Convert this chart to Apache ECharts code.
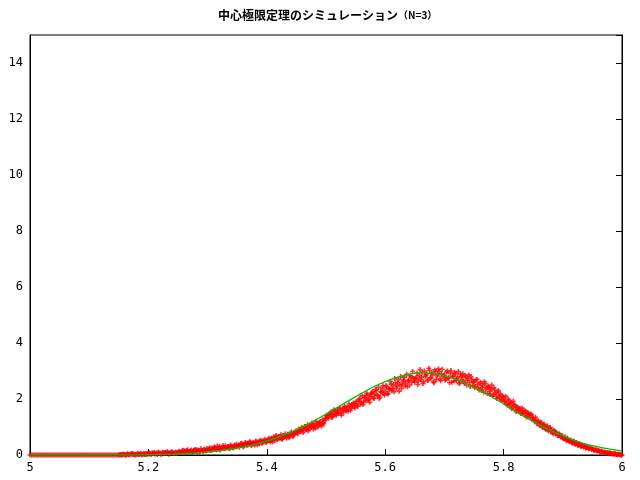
<!DOCTYPE html>
<html><head><meta charset="utf-8">
<script src="https://cdn.jsdelivr.net/npm/echarts@6/dist/echarts.min.js"></script>
<style>html,body{margin:0;padding:0;background:#fff}#c{width:640px;height:480px}</style>
</head><body><div id="c"></div>
<script>
// Tick settings
const xTicks = [5, 5.2, 5.4, 5.6, 5.8, 6];
const yTicks = [0, 2, 4, 6, 8, 10, 12, 14];

// Simulated histogram (red points), first set: x starts at 5.0, step 0.0025
const redStartX = 5.0;
const redStepX = 0.0025;
const redY = [
0,0,0,0,0,0,0,0,0,0,0,0,0,0,0,0,0,0,0,0,
0,0,0,0,0,0,0,0,0,0,0,0,0,0,0,0,0,0,0,0,
0,0,0,0,0,0,0,0,0,0,0,0,0,0,0,0,0,0,0,0,
0,0.02,0,0.03,0.01,0,0.04,0.02,0.01,0.05,0.02,0,0.03,0.06,0.02,0.04,0.01,0.05,0.03,0.02,
0.04,0.07,0.03,0.06,0.09,0.05,0.02,0.08,0.06,0.04,0.1,0.07,0.05,0.09,0.03,0.08,0.11,0.06,0.07,0.05,
0.08,0.12,0.1,0.15,0.07,0.13,0.16,0.09,0.12,0.18,0.11,0.14,0.2,0.1,0.15,0.13,0.17,0.12,0.21,0.16,
0.18,0.22,0.16,0.25,0.2,0.27,0.19,0.24,0.3,0.21,0.26,0.23,0.33,0.25,0.28,0.22,0.31,0.27,0.35,0.29,
0.3,0.36,0.33,0.4,0.29,0.37,0.42,0.35,0.39,0.45,0.38,0.41,0.36,0.47,0.43,0.4,0.5,0.44,0.46,0.52,
0.48,0.55,0.51,0.6,0.47,0.58,0.63,0.55,0.66,0.6,0.57,0.7,0.64,0.68,0.74,0.62,0.72,0.78,0.7,0.8,
0.82,0.76,0.9,0.85,0.95,0.88,1.0,0.93,0.86,1.05,0.98,1.1,1.02,0.96,1.12,1.08,1.18,1.04,1.15,1.22,
1.32,1.42,1.38,1.5,1.34,1.46,1.57,1.42,1.52,1.64,1.48,1.6,1.54,1.7,1.62,1.56,1.74,1.67,1.8,1.72,
1.84,1.77,1.92,2.02,1.87,1.8,2.07,1.94,2.14,2.0,2.1,2.22,2.04,2.18,2.3,2.12,2.02,2.26,2.37,2.2,
2.28,2.43,2.18,2.36,2.53,2.38,2.26,2.58,2.46,2.7,2.5,2.38,2.63,2.78,2.56,2.44,2.68,2.83,2.6,2.74,
2.6,2.78,2.52,2.85,2.7,2.95,2.62,2.8,2.9,2.68,3.02,2.75,2.86,2.58,2.98,2.82,3.08,2.72,2.9,2.8,
2.85,2.7,3.0,2.76,2.92,2.6,2.82,2.95,2.66,2.78,2.55,2.88,2.7,2.62,2.84,2.5,2.74,2.58,2.8,2.48,
2.6,2.45,2.7,2.38,2.55,2.3,2.48,2.62,2.35,2.2,2.42,2.28,2.5,2.15,2.32,2.1,2.25,2.05,2.18,1.98,
2.05,1.9,1.82,2.0,1.75,1.88,1.7,1.8,1.62,1.72,1.58,1.66,1.5,1.6,1.45,1.55,1.4,1.48,1.35,1.42,
1.32,1.2,1.26,1.15,1.1,1.18,1.02,1.08,0.95,1.0,0.9,0.96,0.85,0.8,0.88,0.75,0.78,0.7,0.72,0.65,
0.62,0.58,0.55,0.6,0.5,0.52,0.45,0.48,0.4,0.43,0.36,0.38,0.32,0.35,0.28,0.3,0.26,0.27,0.22,0.24,
0.22,0.18,0.2,0.15,0.17,0.12,0.14,0.1,0.11,0.08,0.09,0.06,0.07,0.05,0.04,0.06,0.03,0.02,0.03,0.01,
0
];

// Second set of red points, interleaved: x starts at 5.15125, step 0.0025
const red2StartX = 5.15125;
const red2Y = [
0.01,0,0.03,0.02,0,0.04,0.01,0.03,0.05,0.02,0.04,0.01,0.03,0.02,0.06,0.03,0.04,0.02,0.05,0.07,
0.06,0.03,0.08,0.05,0.04,0.07,0.1,0.06,0.03,0.08,0.05,0.09,0.12,0.07,0.06,0.1,0.08,0.05,0.11,0.09,
0.13,0.09,0.11,0.17,0.14,0.1,0.19,0.12,0.15,0.09,0.16,0.2,0.13,0.18,0.11,0.22,0.15,0.19,0.14,0.23,
0.2,0.26,0.17,0.23,0.29,0.21,0.32,0.24,0.18,0.28,0.34,0.22,0.27,0.3,0.24,0.36,0.29,0.25,0.33,0.38,
0.34,0.28,0.41,0.38,0.32,0.45,0.36,0.43,0.48,0.33,0.44,0.4,0.5,0.37,0.46,0.53,0.42,0.49,0.56,0.45,
0.52,0.6,0.46,0.57,0.64,0.53,0.7,0.58,0.62,0.72,0.56,0.66,0.76,0.61,0.73,0.68,0.82,0.66,0.76,0.86,
0.78,0.92,0.84,0.98,0.8,1.02,0.9,1.08,0.94,1.0,1.14,0.92,1.06,1.2,1.0,1.16,1.1,1.26,1.12,1.3,
1.4,1.3,1.47,1.54,1.37,1.62,1.45,1.58,1.5,1.68,1.42,1.66,1.74,1.57,1.7,1.82,1.6,1.78,1.86,1.68,
1.92,1.74,2.0,1.82,2.12,1.9,2.04,2.2,1.97,1.88,2.17,2.27,2.02,2.34,2.14,2.42,2.07,2.24,2.47,2.14,
2.48,2.2,2.36,2.63,2.3,2.5,2.73,2.38,2.58,2.28,2.8,2.53,2.68,2.46,2.88,2.64,2.5,2.78,2.98,2.66,
2.72,2.92,2.64,3.05,2.78,2.55,3.0,2.86,2.66,3.1,2.76,2.94,2.62,3.04,2.7,2.88,2.98,2.65,3.06,2.84,
2.68,2.96,2.75,2.58,3.02,2.8,2.64,2.9,2.72,2.98,2.6,2.8,2.9,2.56,2.78,2.66,2.86,2.45,2.7,2.62,
2.4,2.68,2.52,2.32,2.6,2.42,2.25,2.55,2.4,2.46,2.18,2.36,2.12,2.4,2.22,2.02,2.3,2.12,1.95,2.1,
1.92,2.1,1.78,1.95,1.85,1.65,1.92,1.78,1.55,1.7,1.62,1.48,1.68,1.52,1.58,1.36,1.5,1.42,1.46,1.28,
1.24,1.35,1.12,1.22,1.05,1.14,0.98,1.1,0.92,1.04,0.86,0.98,0.9,0.76,0.84,0.8,0.7,0.76,0.64,0.7,
0.58,0.64,0.52,0.56,0.47,0.54,0.42,0.5,0.38,0.44,0.34,0.4,0.3,0.33,0.3,0.25,0.28,0.23,0.26,0.2,
0.2,0.16,0.18,0.13,0.15,0.1,0.12,0.09,0.1,0.07,0.06,0.08,0.04,0.05,0.03,0.04,0.02,0.03,0.01,0.0
];

// Theoretical density (green line), read at x = 5.00, 5.02, ... 6.00
const greenX = [5.00,5.02,5.04,5.06,5.08,5.10,5.12,5.14,5.16,5.18,5.20,5.22,5.24,5.26,5.28,5.30,5.32,5.34,5.36,5.38,5.40,
5.42,5.44,5.46,5.48,5.50,5.52,5.54,5.56,5.58,5.60,5.62,5.64,5.66,5.68,5.70,5.72,5.74,5.76,5.78,5.80,
5.82,5.84,5.86,5.88,5.90,5.92,5.94,5.96,5.98,6.00];
const greenY = [0,0,0,0,0,0,0,0.002,0.005,0.008,0.013,0.02,0.03,0.047,0.07,0.11,0.15,0.22,0.29,0.38,0.5,
0.64,0.81,1.0,1.22,1.46,1.71,1.96,2.2,2.43,2.62,2.77,2.88,2.93,2.91,2.83,2.7,2.52,2.3,2.07,1.82,
1.56,1.31,1.08,0.87,0.68,0.52,0.39,0.29,0.21,0.15];

const redData = redY.map((v, i) => [+(redStartX + i * redStepX).toFixed(5), v])
  .concat(red2Y.map((v, i) => [+(red2StartX + i * redStepX).toFixed(5), v]));
const greenData = greenX.map((x, i) => [x, greenY[i]]);

const FONT = 'DejaVu Sans Mono';
const chart = echarts.init(document.getElementById('c'), null, {renderer: 'canvas'});
chart.setOption({
  animation: false,
  backgroundColor: '#fff',
  title: {
    text: '{a|中心極限定理のシミュレーション}{b|（N=3）}',
    left: 213, top: 4,
    textStyle: {
      rich: {
        a: {fontFamily: 'Noto Sans CJK JP', fontWeight: 'bold', fontSize: 12, color: '#000'},
        b: {fontFamily: 'Noto Sans CJK JP', fontSize: 10, color: '#000'}
      }
    }
  },
  grid: {left: 30, right: 18, top: 35, bottom: 25, show: true, borderColor: '#000', borderWidth: 1, backgroundColor: 'transparent'},
  xAxis: [{
    type: 'value', min: xTicks[0], max: xTicks[xTicks.length - 1], interval: 0.2,
    axisLine: {show: true, lineStyle: {color: '#000', width: 1}},
    axisTick: {show: true, inside: true, length: 6, lineStyle: {color: '#000'}},
    axisLabel: {color: '#000', fontFamily: FONT, fontSize: 12, margin: 7},
    splitLine: {show: false}
  }],
  yAxis: [{
    type: 'value', min: 0, max: 15, interval: 2,
    axisLine: {show: true, lineStyle: {color: '#000'}},
    axisTick: {show: false},
    axisLabel: {color: '#000', fontFamily: FONT, fontSize: 12, margin: 7, showMaxLabel: false},
    splitLine: {show: false}
  }, {
    type: 'value', min: 0, max: 15, interval: 2, position: 'right',
    axisLine: {show: true, lineStyle: {color: '#000'}},
    axisTick: {show: true, inside: true, length: 6, lineStyle: {color: '#000'}},
    axisLabel: {show: false},
    splitLine: {show: false}
  }],
  series: [{
    type: 'scatter', data: redData, yAxisIndex: 0,
    symbol: 'path://M1.7,0h1.6v5h-1.6z M0,1.7h5v1.6h-5z', symbolSize: 5,
    itemStyle: {color: '#ff0000'}, z: 2, silent: true, large: false
  }, {
    type: 'line', data: greenData, yAxisIndex: 0, showSymbol: false, smooth: true,
    lineStyle: {color: '#00c000', width: 1.3}, z: 3, silent: true
  }]
});
</script></body></html>
